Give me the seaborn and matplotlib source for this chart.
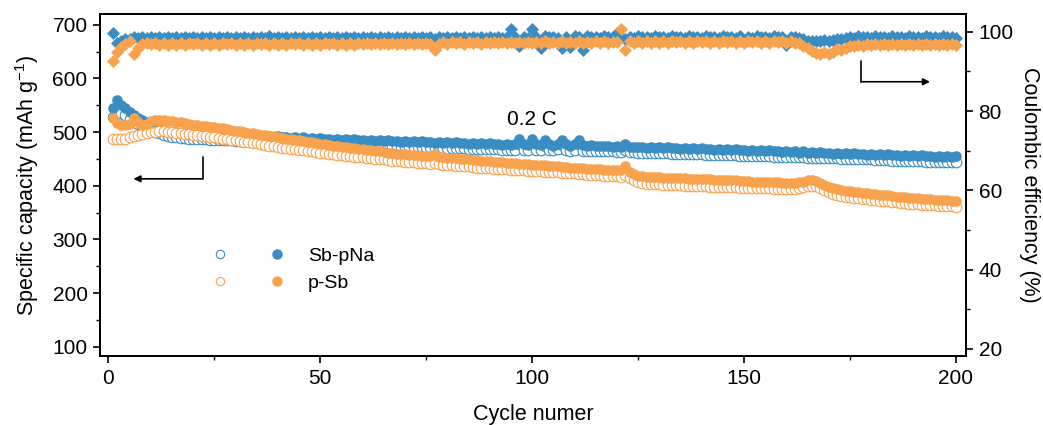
import matplotlib
matplotlib.use("Agg")
import matplotlib.pyplot as plt
import seaborn as sns
import numpy as np
from matplotlib.lines import Line2D
from matplotlib.legend_handler import HandlerTuple
from matplotlib.ticker import MultipleLocator

# ---------------- data ----------------
cycles = list(range(1, 201))

sbpna_dis = [
    545, 560, 550, 544, 538, 532, 527, 522, 518, 514,
    510, 506, 503, 501, 500, 500, 498, 499, 497, 498,
    497, 498, 496, 497, 495, 497, 495, 496, 494, 495,
    493, 495, 492, 494, 492, 493, 491, 493, 490, 492,
    490, 491, 489, 491, 488, 490, 488, 489, 487, 489,
    487, 488, 486, 488, 486, 487, 485, 487, 485, 486,
    484, 486, 484, 485, 483, 485, 483, 484, 482, 484,
    482, 483, 481, 483, 481, 482, 480, 482, 480, 481,
    479, 481, 479, 480, 478, 480, 478, 479, 477, 479,
    477, 478, 476, 478, 476, 477, 488, 478, 476, 488,
    478, 476, 485, 477, 475, 478, 485, 477, 475, 477,
    486, 476, 475, 476, 474, 475, 474, 475, 473, 474,
    473, 477, 473, 473, 472, 473, 471, 473, 471, 472,
    470, 472, 470, 471, 469, 471, 469, 470, 468, 470,
    468, 469, 467, 469, 467, 468, 466, 468, 466, 467,
    465, 467, 465, 466, 464, 466, 464, 465, 463, 465,
    463, 464, 462, 464, 462, 463, 461, 463, 461, 462,
    460, 462, 460, 461, 459, 461, 459, 460, 458, 460,
    458, 459, 457, 459, 457, 458, 456, 458, 456, 457,
    455, 457, 455, 456, 454, 456, 454, 455, 453, 455,
]

sbpna_chg = [
    528, 538, 536, 531, 525, 520, 515, 511, 507, 504,
    501, 498, 495, 493, 491, 490, 489, 489, 488, 488,
    487, 487, 487, 486, 486, 486, 485, 485, 485, 484,
    484, 484, 483, 483, 483, 482, 482, 482, 481, 481,
    481, 480, 480, 480, 479, 479, 479, 479, 478, 478,
    478, 478, 477, 477, 477, 477, 476, 476, 476, 476,
    475, 475, 475, 475, 474, 474, 474, 474, 473, 473,
    473, 473, 472, 472, 472, 472, 471, 471, 471, 471,
    470, 470, 470, 470, 469, 469, 469, 469, 468, 468,
    468, 468, 467, 467, 467, 467, 478, 467, 466, 478,
    467, 466, 475, 466, 466, 468, 476, 466, 465, 466,
    477, 465, 465, 465, 465, 464, 464, 464, 464, 463,
    463, 467, 463, 463, 462, 462, 462, 462, 461, 461,
    461, 461, 460, 460, 460, 460, 459, 459, 459, 459,
    458, 458, 458, 458, 457, 457, 457, 457, 456, 456,
    456, 456, 455, 455, 455, 455, 454, 454, 454, 454,
    453, 453, 453, 453, 452, 452, 452, 452, 451, 451,
    451, 451, 450, 450, 450, 450, 449, 449, 449, 449,
    448, 448, 448, 448, 447, 447, 447, 447, 446, 446,
    446, 446, 445, 445, 445, 445, 444, 444, 444, 444,
]

psb_dis = [
    527, 517, 514, 513, 515, 527, 518, 514, 516, 520,
    522, 522, 522, 521, 520, 519, 518, 517, 516, 514,
    513, 512, 511, 510, 509, 508, 507, 505, 504, 503,
    502, 500, 499, 498, 497, 495, 494, 493, 492, 490,
    489, 488, 487, 486, 485, 483, 482, 481, 479, 478,
    477, 476, 475, 474, 473, 472, 471, 470, 469, 468,
    467, 466, 465, 464, 463, 462, 461, 460, 460, 459,
    458, 457, 457, 456, 455, 455, 460, 454, 453, 452,
    452, 451, 450, 450, 449, 448, 448, 447, 446, 446,
    445, 444, 444, 443, 442, 442, 441, 441, 440, 439,
    439, 438, 438, 437, 436, 436, 435, 435, 434, 434,
    433, 433, 432, 432, 431, 431, 430, 430, 429, 429,
    429, 437, 426, 422, 419, 418, 417, 417, 416, 416,
    415, 415, 415, 414, 414, 414, 413, 413, 413, 412,
    412, 412, 411, 411, 411, 410, 410, 410, 409, 409,
    409, 408, 408, 408, 407, 407, 407, 407, 406, 406,
    406, 406, 407, 408, 410, 410, 409, 405, 401, 398,
    396, 394, 392, 391, 390, 389, 388, 387, 386, 385,
    384, 383, 383, 382, 381, 380, 380, 379, 378, 378,
    377, 376, 376, 375, 374, 374, 373, 373, 372, 371,
]

psb_chg = [
    488, 487, 487, 488, 490, 492, 494, 496, 498, 500,
    501, 502, 502, 501, 500, 499, 498, 497, 496, 495,
    494, 493, 492, 491, 490, 489, 488, 487, 486, 485,
    484, 482, 481, 480, 479, 477, 476, 475, 474, 472,
    471, 470, 469, 468, 467, 466, 465, 464, 463, 462,
    461, 460, 459, 458, 457, 456, 455, 454, 454, 453,
    452, 451, 450, 449, 449, 448, 447, 446, 446, 445,
    444, 444, 443, 442, 442, 441, 443, 440, 439, 439,
    438, 437, 437, 436, 436, 435, 434, 434, 433, 433,
    432, 432, 431, 431, 430, 430, 429, 429, 428, 428,
    427, 427, 426, 426, 425, 425, 424, 424, 423, 423,
    422, 422, 421, 421, 420, 420, 419, 419, 418, 418,
    417, 421, 414, 410, 407, 405, 404, 404, 403, 403,
    402, 402, 401, 401, 401, 400, 400, 400, 399, 399,
    399, 398, 398, 398, 397, 397, 397, 397, 396, 396,
    396, 396, 395, 395, 395, 395, 394, 394, 394, 394,
    394, 394, 396, 398, 400, 400, 399, 396, 392, 388,
    385, 383, 381, 380, 379, 378, 377, 376, 375, 374,
    373, 372, 371, 371, 370, 369, 368, 368, 367, 367,
    366, 365, 365, 364, 364, 363, 363, 362, 362, 361,
]

sbpna_ce = [
    99.8, 97.2, 97.8, 98.1, 98.3, 98.6, 98.4, 98.7, 98.4, 98.8,
    98.4, 98.7, 98.5, 98.8, 98.4, 98.7, 98.4, 98.8, 98.5, 98.7,
    98.4, 98.8, 98.4, 98.7, 98.5, 98.8, 98.4, 98.7, 98.4, 98.8,
    98.5, 98.7, 98.4, 98.8, 98.4, 98.7, 98.5, 98.9, 98.4, 98.7,
    98.4, 98.8, 98.5, 98.7, 98.4, 98.8, 98.4, 98.7, 98.5, 98.8,
    98.4, 98.7, 98.4, 98.8, 98.5, 98.7, 98.4, 98.8, 98.4, 98.7,
    98.5, 98.8, 98.4, 98.7, 98.4, 98.8, 98.5, 98.7, 98.4, 98.8,
    98.4, 98.7, 98.5, 98.8, 98.4, 98.7, 98.2, 98.8, 98.5, 98.7,
    98.4, 98.8, 98.4, 98.7, 98.5, 98.8, 98.4, 98.7, 98.4, 98.8,
    98.5, 98.7, 98.4, 98.8, 100.8, 98.6, 96.3, 98.8, 98.5, 100.8,
    98.8, 96.0, 98.9, 98.6, 98.8, 98.5, 96.0, 98.8, 96.2, 98.9,
    98.6, 95.5, 98.9, 98.6, 98.8, 98.5, 98.9, 98.6, 98.8, 99.8,
    98.6, 98.2, 98.8, 98.5, 98.9, 98.6, 98.8, 98.5, 98.9, 98.6,
    98.8, 98.5, 98.9, 98.6, 98.8, 98.5, 98.9, 98.6, 98.8, 98.5,
    98.9, 98.6, 98.8, 98.5, 98.9, 98.6, 98.8, 98.5, 98.9, 97.4,
    98.8, 98.5, 98.9, 98.6, 98.8, 98.5, 98.9, 98.6, 98.8, 96.6,
    98.6, 98.8, 98.5, 98.2, 97.8, 97.6, 97.8, 97.6, 97.9, 97.8,
    98.0, 98.1, 98.3, 98.5, 98.8, 98.5, 98.9, 98.6, 98.8, 98.5,
    98.9, 98.6, 98.8, 98.5, 98.9, 98.6, 98.8, 98.5, 98.9, 98.6,
    98.8, 98.5, 98.9, 98.6, 98.8, 98.5, 98.9, 98.6, 98.8, 98.5,
]

psb_ce = [
    92.7, 94.8, 96.2, 97.0, 97.6, 94.3, 96.0, 96.9, 97.3, 96.9,
    97.2, 96.8, 97.2, 96.8, 97.1, 96.8, 97.2, 96.8, 97.2, 96.9,
    97.2, 96.8, 97.1, 96.8, 97.2, 96.8, 97.2, 96.9, 97.1, 96.8,
    97.2, 96.8, 97.2, 96.8, 97.1, 96.9, 97.2, 96.8, 97.2, 96.8,
    97.1, 96.8, 97.2, 96.9, 97.2, 96.8, 97.1, 96.8, 97.2, 96.8,
    97.2, 96.9, 97.1, 96.8, 97.2, 96.8, 97.2, 96.8, 97.1, 96.9,
    97.3, 96.9, 97.3, 97.0, 97.3, 96.9, 97.3, 97.0, 97.3, 96.9,
    97.3, 97.0, 97.3, 96.9, 97.3, 97.0, 95.3, 97.0, 97.4, 97.0,
    97.4, 97.1, 97.4, 97.0, 97.5, 97.1, 97.4, 97.0, 97.5, 97.1,
    97.5, 97.1, 97.4, 97.1, 97.5, 97.1, 97.5, 97.2, 97.5, 97.1,
    97.5, 97.2, 97.6, 97.2, 97.5, 97.1, 97.6, 97.2, 97.5, 97.2,
    97.6, 97.2, 97.5, 97.2, 97.6, 97.2, 97.6, 97.3, 97.5, 97.4,
    100.6, 95.4, 97.6, 97.3, 97.7, 97.3, 97.6, 97.3, 97.7, 97.3,
    97.7, 97.3, 97.6, 97.4, 97.7, 97.3, 97.7, 97.3, 97.6, 97.4,
    97.7, 97.3, 97.7, 97.3, 97.6, 97.4, 97.7, 97.3, 97.7, 97.3,
    97.6, 97.4, 97.7, 97.3, 97.7, 97.3, 97.6, 97.4, 97.7, 97.3,
    97.6, 97.3, 97.2, 96.5, 95.8, 95.2, 94.6, 94.3, 94.8, 94.4,
    95.0, 95.6, 95.4, 96.0, 96.3, 96.5, 96.8, 96.5, 96.9, 96.6,
    96.9, 96.6, 97.0, 96.6, 96.9, 96.6, 97.0, 96.6, 96.9, 96.6,
    97.0, 96.6, 96.9, 96.6, 97.0, 96.6, 96.9, 96.6, 97.0, 96.6,
]

series_labels = ["Sb-pNa", "p-Sb"]
cap_ticks = [100, 200, 300, 400, 500, 600, 700]
ce_ticks = [20, 40, 60, 80, 100]
x_ticks = [0, 50, 100, 150, 200]

# ---------------- style ----------------
BLUE = "#3A8DC2"
ORANGE = "#F9A24E"

sns.set_style("ticks")
plt.rcParams["font.family"] = ["Liberation Sans", "DejaVu Sans"]
plt.rcParams["mathtext.fontset"] = "custom"
plt.rcParams["mathtext.rm"] = "Liberation Sans"
plt.rcParams["mathtext.default"] = "regular"
plt.rcParams["text.color"] = "black"
plt.rcParams["axes.labelcolor"] = "black"
plt.rcParams["xtick.color"] = "black"
plt.rcParams["ytick.color"] = "black"

fig = plt.figure(figsize=(10.43, 4.25), dpi=100)
ax = fig.add_axes([0.09588, 0.16235, 0.83030, 0.80471])
ax2 = ax.twinx()

S_CIRC = 58
S_DIAM = 44

# capacity: charge (open) under discharge (filled)
sns.scatterplot(x=cycles, y=sbpna_chg, ax=ax, marker="o", s=S_CIRC,
                facecolor="white", edgecolor=BLUE, linewidth=0.8, zorder=2)
sns.scatterplot(x=cycles, y=sbpna_dis, ax=ax, marker="o", s=S_CIRC,
                color=BLUE, linewidth=0, zorder=3)
sns.scatterplot(x=cycles, y=psb_chg, ax=ax, marker="o", s=S_CIRC,
                facecolor="white", edgecolor=ORANGE, linewidth=0.8, zorder=4)
sns.scatterplot(x=cycles, y=psb_dis, ax=ax, marker="o", s=S_CIRC,
                color=ORANGE, linewidth=0, zorder=5)

# coulombic efficiency
sns.scatterplot(x=cycles, y=sbpna_ce, ax=ax2, marker="D", s=S_DIAM,
                color=BLUE, linewidth=0, zorder=2)
sns.scatterplot(x=cycles, y=psb_ce, ax=ax2, marker="D", s=S_DIAM,
                color=ORANGE, linewidth=0, zorder=3)

# axes limits / ticks
ax.set_xlim(-2, 202.4)
ax.set_ylim(83, 720)
ax2.set_ylim(18.2, 104.5)
ax.set_xticks(x_ticks)
ax.set_yticks(cap_ticks)
ax2.set_yticks(ce_ticks)
ax.xaxis.set_minor_locator(MultipleLocator(25))
ax.yaxis.set_minor_locator(MultipleLocator(50))
ax2.yaxis.set_minor_locator(MultipleLocator(10))

for a in (ax, ax2):
    a.tick_params(which="major", direction="out", length=5, width=1.2,
                  labelsize=15, pad=4, color="black", labelcolor="black")
    a.tick_params(which="minor", direction="out", length=3, width=1.0, color="black")
    for sp in a.spines.values():
        sp.set_linewidth(1.4)
        sp.set_color("black")
        sp.set_visible(True)
ax.tick_params(which="both", top=False, right=False)
ax2.tick_params(which="both", left=False, right=True, labelright=True)

ax.set_xlabel("Cycle numer", fontsize=15.5, color="black")
ax.set_ylabel("Specific capacity (mAh g$^{-1}$)", fontsize=15.5, color="black")
ax2.set_ylabel("Coulombic efficiency (%)", fontsize=15.5, rotation=270,
               va="center", color="black")
ax.xaxis.set_label_coords(0.5, -0.14)
ax.yaxis.set_label_coords(-0.068, 0.5)
ax2.yaxis.set_label_coords(1.073, 0.5)
ax.grid(False)
ax2.grid(False)

# annotations
ax.text(100, 523, "0.2 C", fontsize=15, ha="center", va="center",
        color="black", zorder=10)
ax.plot([22.2, 22.2], [454, 413], color="black", lw=1.2, zorder=10)
ax.annotate("", xy=(5.9, 413), xytext=(22.2, 413),
            arrowprops=dict(arrowstyle="-|>", color="black", lw=1.2,
                            mutation_scale=10, shrinkA=0, shrinkB=0), zorder=10)
ax2.plot([177.6, 177.6], [92.7, 87.4], color="black", lw=1.2, zorder=10)
ax2.annotate("", xy=(193.9, 87.4), xytext=(177.6, 87.4),
             arrowprops=dict(arrowstyle="-|>", color="black", lw=1.2,
                             mutation_scale=10, shrinkA=0, shrinkB=0), zorder=10)

# legend
h_open_b = Line2D([], [], ls="none", marker="o", ms=6, mfc="white", mec=BLUE, mew=0.8)
h_fill_b = Line2D([], [], ls="none", marker="o", ms=7.5, mfc=BLUE, mec=BLUE, mew=0)
h_open_o = Line2D([], [], ls="none", marker="o", ms=6, mfc="white", mec=ORANGE, mew=0.8)
h_fill_o = Line2D([], [], ls="none", marker="o", ms=7.5, mfc=ORANGE, mec=ORANGE, mew=0)
leg = ax2.legend([(h_open_b, h_fill_b), (h_open_o, h_fill_o)], series_labels,
                 handler_map={tuple: HandlerTuple(ndivide=None, pad=1.75)},
                 loc="upper left", bbox_to_anchor=(0.2, 0.4188),
                 bbox_transform=fig.transFigure, frameon=False, borderpad=0,
                 borderaxespad=0, handlelength=4.12, handletextpad=1.0,
                 labelspacing=0.5, fontsize=14)
for t in leg.get_texts():
    t.set_color("black")

fig.savefig("out.png", dpi=100)
